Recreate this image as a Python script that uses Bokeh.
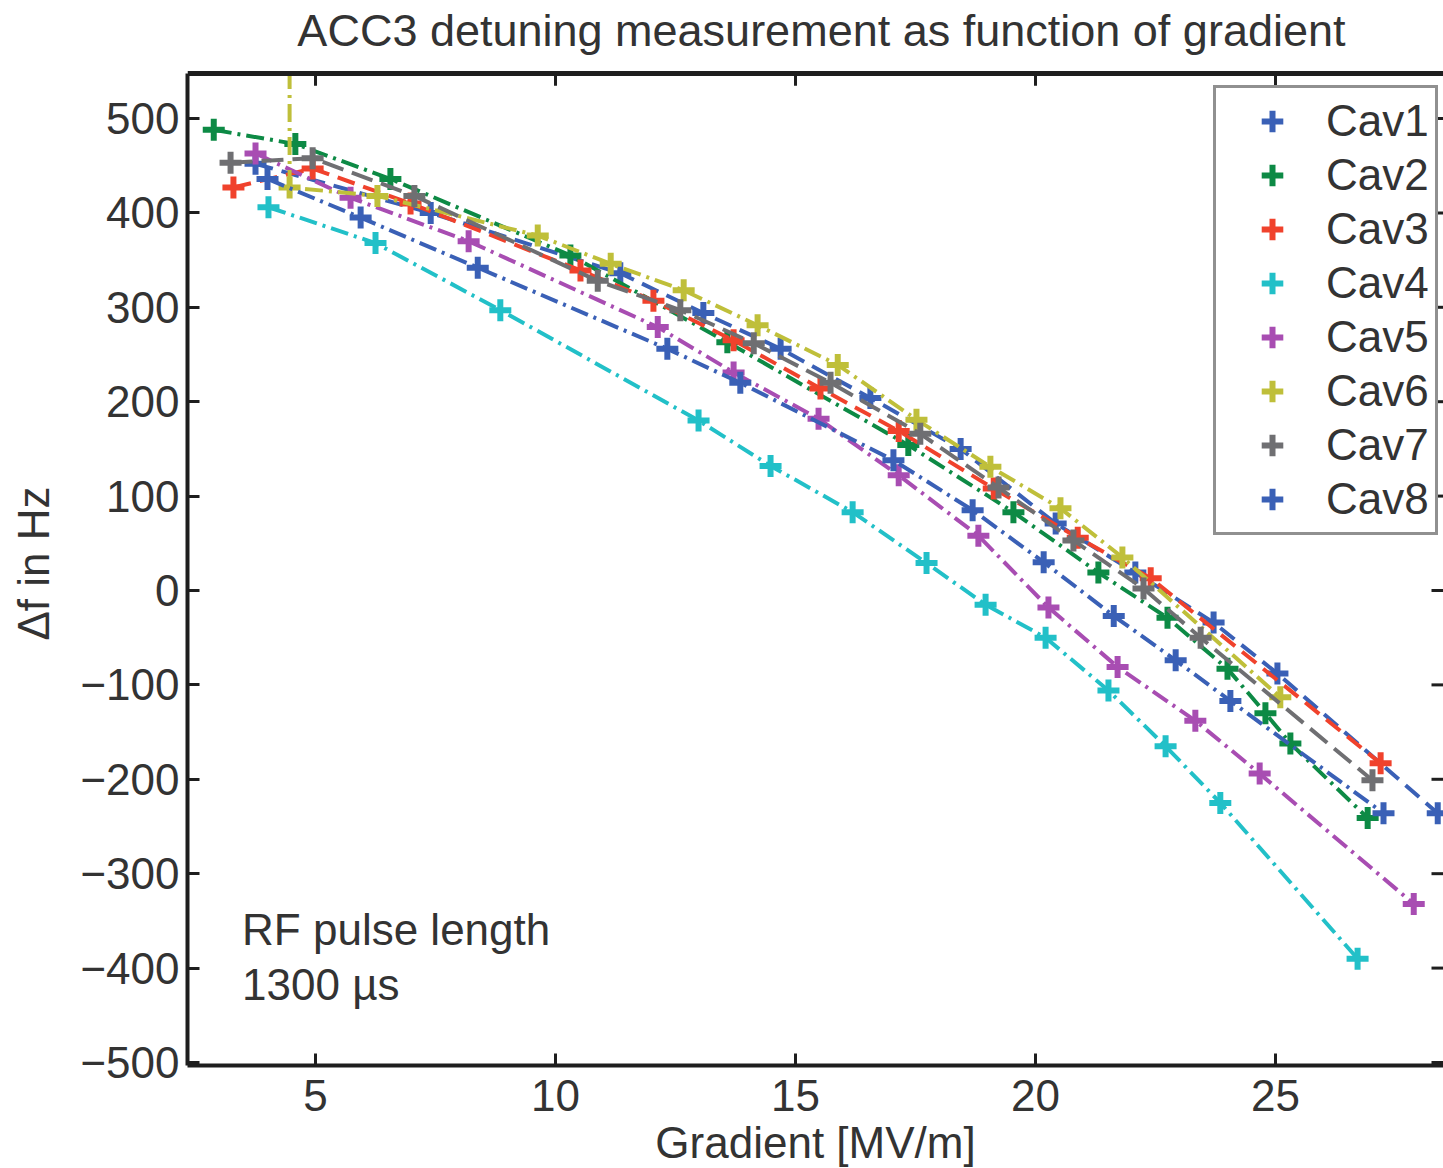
from bokeh.plotting import figure
from bokeh.models import LinearAxis, Label, Legend, LegendItem, FixedTicker, BoxAnnotation, Span
from bokeh.embed import file_html
from bokeh.resources import INLINE

series_names = ["Cav1", "Cav2", "Cav3", "Cav4", "Cav5", "Cav6", "Cav7", "Cav8"]

cav1_x = [3.75, 7.4, 11.35, 13.08, 14.69, 16.56, 18.44, 20.42, 22.08, 23.71, 25.04, 28.38]
cav1_y = [452, 400, 336, 294, 256, 204, 150, 71, 19, -34, -88, -236]

cav2_x = [2.88, 4.58, 6.56, 10.31, 13.58, 17.35, 19.54, 21.31, 22.75, 24.0, 24.79, 25.31, 26.92]
cav2_y = [488, 473, 436, 355, 263, 154, 83, 19, -29, -83, -130, -162, -241]

cav3_x = [3.29, 4.94, 6.98, 10.52, 12.04, 13.71, 15.52, 17.15, 19.13, 20.88, 22.4, 27.19]
cav3_y = [427, 447, 410, 339, 307, 265, 214, 169, 108, 56, 13, -183]

cav4_x = [4.02, 6.25, 8.85, 12.98, 14.48, 16.19, 17.73, 18.96, 20.21, 21.52, 22.71, 23.85, 26.71]
cav4_y = [406, 368, 297, 180, 132, 83, 29, -15, -50, -106, -165, -225, -390]

cav5_x = [3.75, 5.73, 8.19, 12.13, 13.71, 15.48, 17.15, 18.81, 20.27, 21.71, 23.33, 24.67, 27.88]
cav5_y = [463, 416, 370, 279, 231, 182, 122, 58, -18, -81, -138, -194, -332]

cav6_x = [4.46, 4.46, 6.29, 9.63, 11.15, 12.67, 14.21, 15.88, 17.52, 19.06, 20.52, 21.81, 25.1]
cav6_y = [900, 427, 418, 376, 346, 318, 281, 239, 181, 131, 87, 35, -113]

cav7_x = [3.23, 4.94, 7.06, 10.88, 12.6, 14.13, 15.73, 17.6, 19.23, 20.79, 22.25, 23.44, 27.02]
cav7_y = [453, 458, 418, 328, 297, 262, 220, 166, 109, 53, 2, -50, -201]

cav8_x = [4.0, 5.94, 8.38, 12.33, 13.85, 17.04, 18.69, 20.17, 21.63, 22.92, 24.06, 27.25]
cav8_y = [436, 395, 342, 256, 220, 138, 85, 30, -27, -74, -117, -236]

x_ticks = [5, 10, 15, 20, 25]
y_ticks = [-500, -400, -300, -200, -100, 0, 100, 200, 300, 400, 500]

colors = ["#3a60b6", "#0d8a45", "#f0422c", "#22c0c8", "#a84db2", "#bfbf3a", "#6f6f72", "#3a60b6"]
dashes = ["18 9", "18 6 3 6", "18 9", "18 6 3 6", "18 6 3 6", "18 6 3 6", "22 9", "18 6 3 6"]

xs = [cav1_x, cav2_x, cav3_x, cav4_x, cav5_x, cav6_x, cav7_x, cav8_x]
ys = [cav1_y, cav2_y, cav3_y, cav4_y, cav5_y, cav6_y, cav7_y, cav8_y]

FONT = "Liberation Sans"
TXT = "#333333"
X0, X1 = 2.333, 28.5
Y0, Y1 = -503.2, 547.7      # axes box
Y_TOP = 625.0               # canvas top (room for the title inside the frame)

p = figure(frame_width=1256, frame_height=1065,
           x_range=(X0, X1), y_range=(Y0, Y_TOP),
           output_backend="svg", toolbar_location=None,
           min_border_left=187, min_border_top=0, min_border_right=0, min_border_bottom=95,
           x_axis_location=None, y_axis_location=None)

p.grid.visible = False
p.outline_line_color = None
p.background_fill_color = "white"

def style_axis(ax):
    ax.axis_line_color = "#1e1e1e"
    ax.axis_line_width = 4
    ax.major_tick_line_color = "#1e1e1e"
    ax.major_tick_line_width = 3
    ax.major_tick_in = 12
    ax.major_tick_out = 0
    ax.minor_tick_line_color = None
    ax.major_label_text_font = FONT
    ax.major_label_text_font_size = "44px"
    ax.major_label_text_color = TXT
    ax.axis_label_text_font = FONT
    ax.axis_label_text_font_size = "44px"
    ax.axis_label_text_font_style = "normal"
    ax.axis_label_text_color = TXT

xb = LinearAxis(ticker=FixedTicker(ticks=x_ticks), axis_label="Gradient [MV/m]")
style_axis(xb)
xb.major_label_standoff = 14
xb.axis_label_standoff = 4
p.add_layout(xb, "below")

# trailing no-break spaces keep the label centred on the axes box rather than the taller frame
yl = LinearAxis(ticker=FixedTicker(ticks=y_ticks), axis_label="\u0394f in Hz" + "\u00a0" * 5,
                bounds=(Y0, Y1))
style_axis(yl)
yl.major_label_overrides = {t: (str(t).replace("-", "\u2212")) for t in y_ticks}
yl.major_label_standoff = 8
yl.axis_label_standoff = 19
p.add_layout(yl, "left")

# inward ticks of the top spine and of the (cropped) right spine
tick_len_y = 13.0
tick_len_x = 0.25
p.segment(x0=x_ticks, x1=x_ticks, y0=[Y1] * len(x_ticks), y1=[Y1 - tick_len_y] * len(x_ticks),
          line_color="#1e1e1e", line_width=3)
p.segment(x0=[X1 - tick_len_x] * len(y_ticks), x1=[X1] * len(y_ticks), y0=y_ticks, y1=y_ticks,
          line_color="#1e1e1e", line_width=3)

items = []
for name, x, y, c, d in zip(series_names, xs, ys, colors, dashes):
    p.line(x, y, line_color=c, line_width=4, line_dash=d)
    r = p.scatter(x, y, marker="cross", size=22, line_color=c, line_width=6)
    items.append(LegendItem(label=name, renderers=[r]))

# white band above the axes box (title area), then the top spine
p.add_layout(BoxAnnotation(bottom=Y1, fill_color="white", fill_alpha=1.0, line_color=None))
p.add_layout(Span(location=Y1, dimension="width", line_color="#1e1e1e", line_width=5))

legend = Legend(items=items, location=(1026, 530))
legend.label_text_font = FONT
legend.label_text_font_size = "44px"
legend.label_text_color = TXT
legend.label_height = 54
legend.glyph_height = 54
legend.glyph_width = 100
legend.label_standoff = 4
legend.spacing = 0
legend.padding = 6
legend.margin = 0
legend.border_line_color = "#222222"
legend.border_line_width = 3
legend.background_fill_alpha = 1
p.add_layout(legend, "center")

title = Label(x=15.54, y=593.0, text="ACC3 detuning measurement as function of gradient",
              text_font=FONT, text_font_size="45px", text_color=TXT,
              text_align="center", text_baseline="alphabetic")
p.add_layout(title)

note = Label(x=3.47, y=-333, text="RF pulse length\n1300 \u00b5s", text_font=FONT,
             text_font_size="44px", text_color=TXT, text_baseline="top", text_align="left",
             text_line_height=1.12)
p.add_layout(note)

open("out.html", "w").write(file_html(p, INLINE))
